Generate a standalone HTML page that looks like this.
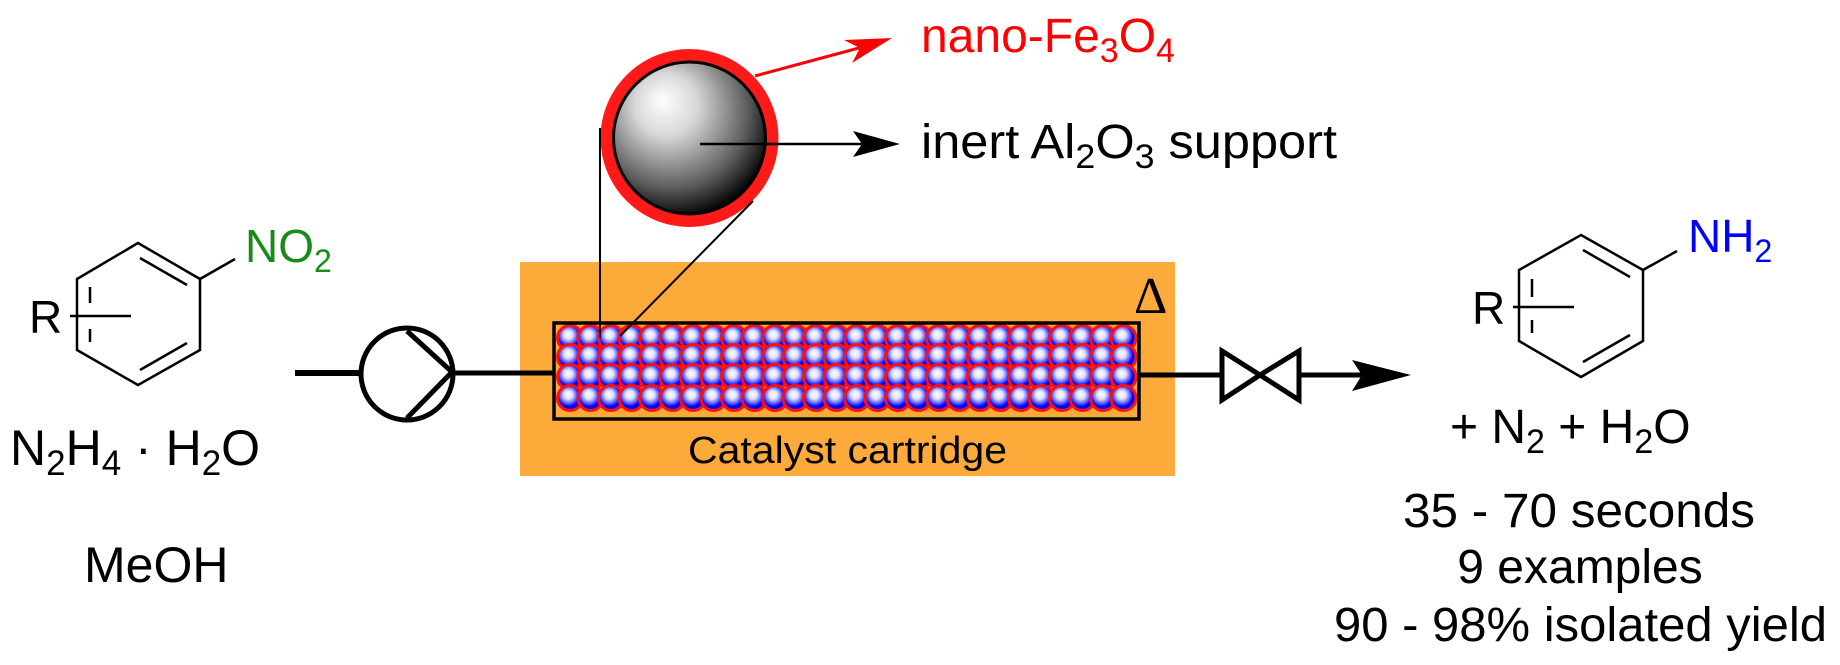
<!DOCTYPE html>
<html><head><meta charset="utf-8"><style>html,body{margin:0;padding:0;background:#fff}svg{display:block}</style></head>
<body>
<svg width="1840" height="665" viewBox="0 0 1840 665" xmlns="http://www.w3.org/2000/svg" xmlns:xlink="http://www.w3.org/1999/xlink" font-family="Liberation Sans, Arial, sans-serif">
<defs>
<radialGradient id="ball" cx="0.45" cy="0.42" r="0.58" fx="0.42" fy="0.35">
<stop offset="0" stop-color="#ffffff"/><stop offset="0.3" stop-color="#e0e0ff"/><stop offset="0.6" stop-color="#5050ff"/><stop offset="0.75" stop-color="#0000ff"/><stop offset="1" stop-color="#0000e0"/></radialGradient>
<radialGradient id="sph" cx="0.4" cy="0.35" r="0.68" fx="0.32" fy="0.25">
<stop offset="0" stop-color="#ffffff"/><stop offset="0.3" stop-color="#d8d8d8"/><stop offset="0.75" stop-color="#5a5a5a"/><stop offset="1" stop-color="#000"/></radialGradient>
<g id="row" stroke="#ff1010" stroke-width="3" fill="url(#ball)">
<circle cx="570" cy="0" r="12.5"/><circle cx="590.5" cy="0" r="12.5"/><circle cx="611" cy="0" r="12.5"/><circle cx="631.5" cy="0" r="12.5"/>
<circle cx="652" cy="0" r="12.5"/><circle cx="672.5" cy="0" r="12.5"/><circle cx="693" cy="0" r="12.5"/><circle cx="713.5" cy="0" r="12.5"/>
<circle cx="734" cy="0" r="12.5"/><circle cx="754.5" cy="0" r="12.5"/><circle cx="775" cy="0" r="12.5"/><circle cx="795.5" cy="0" r="12.5"/>
<circle cx="816" cy="0" r="12.5"/><circle cx="836.5" cy="0" r="12.5"/><circle cx="857" cy="0" r="12.5"/><circle cx="877.5" cy="0" r="12.5"/>
<circle cx="898" cy="0" r="12.5"/><circle cx="918.5" cy="0" r="12.5"/><circle cx="939" cy="0" r="12.5"/><circle cx="959.5" cy="0" r="12.5"/>
<circle cx="980" cy="0" r="12.5"/><circle cx="1000.5" cy="0" r="12.5"/><circle cx="1021" cy="0" r="12.5"/><circle cx="1041.5" cy="0" r="12.5"/>
<circle cx="1062" cy="0" r="12.5"/><circle cx="1082.5" cy="0" r="12.5"/><circle cx="1103" cy="0" r="12.5"/><circle cx="1123.5" cy="0" r="12.5"/>
</g>
</defs>

<rect x="520" y="262" width="655" height="214" fill="#fcaa3a"/>
<use href="#row" xlink:href="#row" y="338"/>
<use href="#row" xlink:href="#row" y="357"/>
<use href="#row" xlink:href="#row" y="377"/>
<use href="#row" xlink:href="#row" y="398"/>
<rect x="554" y="323" width="585" height="96" fill="none" stroke="#000" stroke-width="3.5"/>
<text x="688" y="463" font-size="38" textLength="319" lengthAdjust="spacingAndGlyphs">Catalyst cartridge</text>
<text x="1134" y="313" font-size="52" font-family="Liberation Serif, serif">Δ</text>

<circle cx="689.5" cy="138" r="89" fill="#ff1a1a"/>
<circle cx="689.5" cy="138" r="76" fill="url(#sph)" stroke="#000" stroke-width="3"/>
<line x1="600" y1="128" x2="600" y2="338" stroke="#000" stroke-width="2"/>
<line x1="753" y1="201" x2="620" y2="336" stroke="#000" stroke-width="2"/>
<line x1="755" y1="76" x2="870" y2="45" stroke="#ff0000" stroke-width="3"/>
<polygon points="892,38 852,63 860,48 844,40" fill="#ff0000"/>
<line x1="700" y1="144" x2="870" y2="144" stroke="#000" stroke-width="2.5"/>
<polygon points="900,144 853,131 862,144 853,157" fill="#000"/>
<text x="921" y="52" font-size="48" fill="#ff0000">nano-Fe<tspan font-size="34" dy="10">3</tspan><tspan dy="-10">O</tspan><tspan font-size="34" dy="10">4</tspan></text>
<text x="921" y="158" font-size="48" textLength="416" lengthAdjust="spacingAndGlyphs">inert Al<tspan font-size="34" dy="10">2</tspan><tspan dy="-10">O</tspan><tspan font-size="34" dy="10">3</tspan><tspan dy="-10"> support</tspan></text>

<line x1="295" y1="373" x2="361" y2="373" stroke="#000" stroke-width="6"/>
<circle cx="407" cy="374" r="46" fill="none" stroke="#000" stroke-width="5"/>
<polyline points="407,331 452,372 407,418" fill="none" stroke="#000" stroke-width="5"/>
<line x1="453" y1="373" x2="554" y2="373" stroke="#000" stroke-width="5"/>

<line x1="1139" y1="375" x2="1222" y2="375" stroke="#000" stroke-width="5"/>
<polygon points="1222,351 1260,375 1222,400" fill="none" stroke="#000" stroke-width="5"/>
<polygon points="1299,351 1260,375 1299,400" fill="none" stroke="#000" stroke-width="5"/>
<line x1="1299" y1="375" x2="1365" y2="375" stroke="#000" stroke-width="5"/>
<polygon points="1411,375 1352,360 1362,375 1352,391" fill="#000"/>

<g stroke="#000" stroke-width="2.5" fill="none">
<polygon points="138,243 200,279 200,350 138,385 77,350 77,279"/>
<line x1="140" y1="258" x2="187" y2="285"/>
<line x1="140" y1="370" x2="187" y2="343"/>
<line x1="90" y1="287" x2="90" y2="303"/>
<line x1="90" y1="329" x2="90" y2="342"/>
<line x1="70" y1="316" x2="131" y2="316"/>
<line x1="200" y1="279" x2="235" y2="259"/>
</g>
<text x="29" y="333" font-size="46">R</text>
<text x="245" y="262" font-size="46" fill="#1a8a1a">NO<tspan font-size="32" dy="10">2</tspan></text>
<text x="10" y="465" font-size="50">N<tspan font-size="35" dy="10">2</tspan><tspan dy="-10">H</tspan><tspan font-size="35" dy="10">4</tspan><tspan dy="-10"> · H</tspan><tspan font-size="35" dy="10">2</tspan><tspan dy="-10">O</tspan></text>
<text x="84" y="582" font-size="50">MeOH</text>

<g stroke="#000" stroke-width="2.5" fill="none">
<polygon points="1581,235 1643,270 1643,341 1581,377 1519,341 1519,270"/>
<line x1="1583" y1="250" x2="1630" y2="277"/>
<line x1="1583" y1="362" x2="1630" y2="335"/>
<line x1="1532" y1="279" x2="1532" y2="297"/>
<line x1="1532" y1="320" x2="1532" y2="333"/>
<line x1="1513" y1="307" x2="1574" y2="307"/>
<line x1="1643" y1="270" x2="1677" y2="251"/>
</g>
<text x="1472" y="324" font-size="46">R</text>
<text x="1688" y="252" font-size="46" fill="#0000ff">NH<tspan font-size="32" dy="10">2</tspan></text>
<text x="1450" y="443" font-size="48">+ N<tspan font-size="34" dy="10">2</tspan><tspan dy="-10"> + H</tspan><tspan font-size="34" dy="10">2</tspan><tspan dy="-10">O</tspan></text>
<text x="1403" y="527" font-size="48" textLength="352" lengthAdjust="spacingAndGlyphs">35 - 70 seconds</text>
<text x="1580" y="583" font-size="48" text-anchor="middle">9 examples</text>
<text x="1334" y="641" font-size="48" textLength="493" lengthAdjust="spacingAndGlyphs">90 - 98% isolated yield</text>
</svg>
</body></html>
